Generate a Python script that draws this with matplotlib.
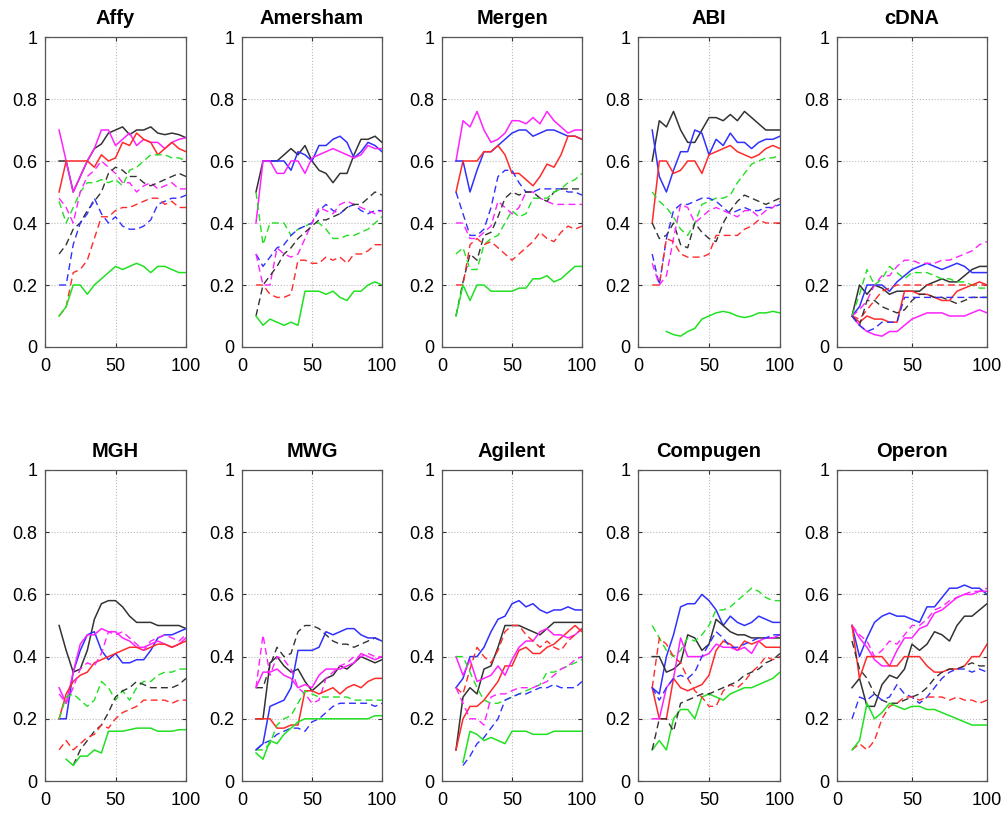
import numpy as np
import matplotlib
matplotlib.use("Agg")
import matplotlib.pyplot as plt

plt.rcParams['font.family'] = ['Liberation Sans', 'DejaVu Sans']

X = [10, 15, 20, 25, 30, 35, 40, 45, 50, 55, 60, 65, 70, 75, 80, 85, 90, 95, 100]
N = None

TITLES = ['Affy', 'Amersham', 'Mergen', 'ABI', 'cDNA',
          'MGH', 'MWG', 'Agilent', 'Compugen', 'Operon']

# keys: colour letter + '-' (solid) or '--' (dashed)
affy = {
    'k-':  [0.60, 0.60, 0.50, 0.55, 0.60, 0.64, 0.655, 0.69, 0.70, 0.71, 0.685, 0.70, 0.70, 0.71, 0.69, 0.685, 0.69, 0.685, 0.675],
    'm-':  [0.70, 0.60, 0.50, 0.55, 0.60, 0.64, 0.70, 0.70, 0.65, 0.67, 0.69, 0.65, 0.67, 0.66, 0.66, 0.64, 0.66, 0.67, 0.675],
    'r-':  [0.50, 0.60, 0.60, 0.60, 0.60, 0.58, 0.62, 0.60, 0.61, 0.66, 0.65, 0.69, 0.67, 0.66, 0.62, 0.64, 0.66, 0.64, 0.63],
    'g--': [0.47, 0.40, 0.45, 0.50, 0.53, 0.53, 0.54, 0.53, 0.54, 0.52, 0.57, 0.58, 0.60, 0.62, 0.62, 0.62, 0.61, 0.61, 0.60],
    'm--': [0.48, 0.45, 0.40, 0.50, 0.55, 0.57, 0.60, 0.58, 0.56, 0.53, 0.53, 0.50, 0.52, 0.53, 0.51, 0.52, 0.53, 0.51, 0.51],
    'k--': [0.30, 0.33, 0.38, 0.40, 0.44, 0.47, 0.50, 0.56, 0.58, 0.57, 0.55, 0.55, 0.53, 0.52, 0.53, 0.54, 0.55, 0.56, 0.55],
    'b--': [0.20, 0.20, 0.33, 0.40, 0.43, 0.48, 0.43, 0.40, 0.42, 0.39, 0.38, 0.38, 0.39, 0.41, 0.46, 0.47, 0.48, 0.48, 0.49],
    'r--': [0.10, 0.13, 0.24, 0.25, 0.28, 0.35, 0.42, 0.42, 0.44, 0.45, 0.45, 0.46, 0.47, 0.48, 0.48, 0.46, 0.47, 0.45, 0.45],
    'g-':  [0.10, 0.13, 0.20, 0.20, 0.17, 0.20, 0.22, 0.24, 0.26, 0.25, 0.26, 0.27, 0.26, 0.24, 0.26, 0.26, 0.25, 0.24, 0.24],
}
amersham = {
    'k-':  [0.50, 0.60, 0.60, 0.60, 0.62, 0.64, 0.62, 0.65, 0.60, 0.57, 0.56, 0.53, 0.56, 0.56, 0.62, 0.67, 0.67, 0.68, 0.66],
    'b-':  [N, 0.60, 0.60, 0.60, 0.60, 0.57, 0.63, 0.62, 0.60, 0.65, 0.65, 0.67, 0.68, 0.66, 0.61, 0.63, 0.66, 0.65, 0.63],
    'm-':  [0.40, 0.60, 0.60, 0.56, 0.56, 0.60, 0.60, 0.56, 0.61, 0.62, 0.63, 0.64, 0.63, 0.62, 0.61, 0.62, 0.65, 0.64, 0.64],
    'g--': [0.50, 0.33, 0.40, 0.40, 0.40, 0.36, 0.38, 0.39, 0.40, 0.40, 0.38, 0.35, 0.35, 0.36, 0.36, 0.37, 0.38, 0.40, 0.42],
    'b--': [0.30, 0.26, 0.29, 0.32, 0.33, 0.36, 0.38, 0.39, 0.40, 0.44, 0.46, 0.44, 0.43, 0.45, 0.46, 0.44, 0.43, 0.44, 0.44],
    'm--': [0.30, 0.20, 0.20, 0.32, 0.30, 0.29, 0.30, 0.35, 0.40, 0.45, 0.44, 0.43, 0.46, 0.47, 0.46, 0.45, 0.44, 0.43, 0.44],
    'k--': [0.10, 0.20, 0.23, 0.26, 0.30, 0.32, 0.35, 0.37, 0.39, 0.41, 0.41, 0.42, 0.43, 0.45, 0.46, 0.46, 0.48, 0.50, 0.49],
    'r--': [0.20, 0.20, 0.17, 0.16, 0.16, 0.17, 0.28, 0.28, 0.27, 0.27, 0.29, 0.28, 0.29, 0.27, 0.30, 0.30, 0.31, 0.33, 0.33],
    'g-':  [0.10, 0.07, 0.09, 0.08, 0.07, 0.08, 0.07, 0.18, 0.18, 0.18, 0.17, 0.18, 0.16, 0.15, 0.18, 0.18, 0.20, 0.21, 0.20],
}
mergen = {
    'm-':  [0.60, 0.73, 0.71, 0.76, 0.70, 0.66, 0.67, 0.69, 0.73, 0.73, 0.72, 0.74, 0.72, 0.76, 0.73, 0.71, 0.69, 0.70, 0.70],
    'b-':  [0.60, 0.60, 0.50, 0.57, 0.63, 0.63, 0.65, 0.67, 0.69, 0.70, 0.70, 0.68, 0.69, 0.70, 0.70, 0.69, 0.68, 0.68, 0.67],
    'r-':  [0.50, 0.60, 0.60, 0.60, 0.63, 0.63, 0.65, 0.62, 0.56, 0.56, 0.54, 0.52, 0.55, 0.59, 0.58, 0.62, 0.68, 0.68, 0.67],
    'b--': [0.50, 0.43, 0.36, 0.36, 0.38, 0.45, 0.55, 0.57, 0.57, 0.53, 0.50, 0.50, 0.51, 0.51, 0.51, 0.51, 0.50, 0.50, 0.49],
    'm--': [0.40, 0.40, 0.35, 0.35, 0.37, 0.39, 0.47, 0.45, 0.43, 0.45, 0.50, 0.50, 0.48, 0.47, 0.46, 0.46, 0.46, 0.46, 0.46],
    'k--': [0.10, 0.21, 0.30, 0.28, 0.36, 0.37, 0.42, 0.48, 0.50, 0.49, 0.50, 0.50, 0.48, 0.47, 0.50, 0.51, 0.51, 0.51, 0.51],
    'g--': [0.30, 0.32, 0.25, 0.25, 0.33, 0.35, 0.36, 0.40, 0.44, 0.42, 0.43, 0.48, 0.48, 0.48, 0.50, 0.51, 0.53, 0.54, 0.56],
    'r--': [0.20, 0.20, 0.33, 0.35, 0.33, 0.34, 0.32, 0.30, 0.28, 0.30, 0.32, 0.34, 0.37, 0.35, 0.34, 0.37, 0.39, 0.38, 0.39],
    'g-':  [0.10, 0.20, 0.15, 0.20, 0.20, 0.18, 0.18, 0.18, 0.18, 0.19, 0.19, 0.22, 0.22, 0.23, 0.21, 0.22, 0.24, 0.26, 0.26],
}
abi = {
    'k-':  [0.60, 0.73, 0.71, 0.76, 0.70, 0.66, 0.66, 0.70, 0.74, 0.74, 0.73, 0.75, 0.73, 0.76, 0.74, 0.72, 0.70, 0.70, 0.70],
    'b-':  [0.70, 0.55, 0.50, 0.57, 0.63, 0.63, 0.70, 0.69, 0.62, 0.67, 0.65, 0.69, 0.66, 0.66, 0.64, 0.66, 0.67, 0.67, 0.68],
    'r-':  [0.40, 0.60, 0.60, 0.56, 0.57, 0.60, 0.60, 0.56, 0.62, 0.63, 0.64, 0.65, 0.63, 0.62, 0.61, 0.62, 0.64, 0.65, 0.64],
    'g--': [0.50, 0.47, 0.45, 0.42, 0.38, 0.36, 0.40, 0.46, 0.47, 0.48, 0.48, 0.49, 0.53, 0.56, 0.59, 0.60, 0.61, 0.61, 0.62],
    'k--': [0.40, 0.35, 0.36, 0.40, 0.33, 0.32, 0.40, 0.37, 0.35, 0.34, 0.40, 0.44, 0.47, 0.49, 0.48, 0.47, 0.46, 0.47, 0.48],
    'b--': [0.30, 0.20, 0.35, 0.44, 0.46, 0.46, 0.47, 0.48, 0.48, 0.47, 0.45, 0.43, 0.44, 0.45, 0.44, 0.44, 0.45, 0.45, 0.46],
    'm--': [0.27, 0.20, 0.23, 0.35, 0.46, 0.45, 0.40, 0.42, 0.44, 0.45, 0.44, 0.43, 0.42, 0.44, 0.44, 0.42, 0.44, 0.45, 0.47],
    'r--': [0.20, 0.20, 0.35, 0.34, 0.30, 0.29, 0.29, 0.29, 0.30, 0.36, 0.36, 0.36, 0.36, 0.38, 0.39, 0.41, 0.40, 0.40, 0.40],
    'g-':  [N, N, 0.05, 0.04, 0.035, 0.05, 0.06, 0.09, 0.10, 0.11, 0.115, 0.11, 0.10, 0.095, 0.10, 0.11, 0.11, 0.115, 0.11],
}
cdna = {
    'k-':  [0.10, 0.20, 0.17, 0.20, 0.19, 0.17, 0.18, 0.18, 0.18, 0.18, 0.20, 0.21, 0.22, 0.21, 0.21, 0.23, 0.25, 0.26, 0.26],
    'b-':  [0.10, 0.13, 0.20, 0.20, 0.20, 0.18, 0.21, 0.23, 0.25, 0.26, 0.27, 0.26, 0.25, 0.26, 0.27, 0.26, 0.24, 0.24, 0.24],
    'r-':  [0.10, 0.08, 0.10, 0.09, 0.09, 0.08, 0.08, 0.18, 0.18, 0.17, 0.17, 0.16, 0.15, 0.15, 0.18, 0.19, 0.20, 0.21, 0.20],
    'm-':  [0.10, 0.07, 0.05, 0.04, 0.035, 0.05, 0.05, 0.07, 0.09, 0.10, 0.11, 0.11, 0.11, 0.10, 0.10, 0.10, 0.11, 0.12, 0.11],
    'm--': [0.10, 0.12, 0.15, 0.20, 0.23, 0.23, 0.26, 0.28, 0.28, 0.27, 0.27, 0.27, 0.28, 0.28, 0.29, 0.30, 0.31, 0.33, 0.34],
    'g--': [0.10, 0.17, 0.25, 0.20, 0.22, 0.26, 0.24, 0.22, 0.24, 0.24, 0.24, 0.23, 0.22, 0.22, 0.21, 0.21, 0.20, 0.19, 0.19],
    'r--': [0.10, 0.09, 0.12, 0.15, 0.18, 0.19, 0.20, 0.20, 0.20, 0.20, 0.20, 0.20, 0.20, 0.20, 0.20, 0.20, 0.20, 0.20, 0.20],
    'k--': [0.10, 0.07, 0.15, 0.15, 0.13, 0.12, 0.11, 0.12, 0.15, 0.17, 0.17, 0.16, 0.16, 0.15, 0.14, 0.15, 0.16, 0.16, 0.16],
    'b--': [0.10, 0.07, 0.05, 0.06, 0.08, 0.08, 0.08, 0.16, 0.16, 0.16, 0.16, 0.16, 0.16, 0.16, 0.16, 0.16, 0.16, 0.16, 0.16],
}
mgh = {
    'k-':  [0.50, 0.42, 0.35, 0.36, 0.42, 0.52, 0.57, 0.58, 0.58, 0.56, 0.53, 0.51, 0.51, 0.51, 0.50, 0.50, 0.50, 0.50, 0.49],
    'b-':  [0.20, 0.20, 0.35, 0.42, 0.47, 0.48, 0.42, 0.39, 0.41, 0.38, 0.38, 0.39, 0.39, 0.42, 0.46, 0.47, 0.47, 0.48, 0.49],
    'm-':  [0.30, 0.25, 0.35, 0.44, 0.47, 0.47, 0.49, 0.48, 0.48, 0.46, 0.45, 0.43, 0.43, 0.44, 0.45, 0.44, 0.43, 0.44, 0.46],
    'r-':  [0.20, 0.28, 0.32, 0.34, 0.35, 0.38, 0.39, 0.40, 0.41, 0.42, 0.43, 0.43, 0.42, 0.43, 0.44, 0.44, 0.43, 0.44, 0.45],
    'm--': [0.28, 0.25, 0.30, 0.36, 0.38, 0.37, 0.41, 0.48, 0.47, 0.48, 0.46, 0.44, 0.42, 0.45, 0.46, 0.47, 0.46, 0.45, 0.47],
    'g--': [0.20, 0.27, 0.28, 0.26, 0.24, 0.26, 0.32, 0.30, 0.26, 0.29, 0.26, 0.30, 0.32, 0.32, 0.34, 0.35, 0.35, 0.36, 0.36],
    'k--': [N, N, 0.05, 0.10, 0.13, 0.16, 0.18, 0.22, 0.27, 0.29, 0.30, 0.32, 0.31, 0.30, 0.30, 0.30, 0.30, 0.31, 0.33],
    'r--': [0.10, 0.13, 0.10, 0.12, 0.14, 0.15, 0.18, 0.17, 0.20, 0.22, 0.23, 0.24, 0.26, 0.26, 0.26, 0.26, 0.25, 0.26, 0.26],
    'g-':  [N, 0.07, 0.05, 0.08, 0.08, 0.10, 0.09, 0.16, 0.16, 0.16, 0.165, 0.17, 0.17, 0.17, 0.16, 0.16, 0.16, 0.165, 0.165],
}
mwg = {
    'k-':  [0.20, 0.20, 0.38, 0.40, 0.37, 0.35, 0.36, 0.32, 0.29, 0.31, 0.33, 0.34, 0.37, 0.36, 0.38, 0.40, 0.39, 0.38, 0.39],
    'k--': [0.30, 0.30, 0.37, 0.43, 0.40, 0.41, 0.48, 0.50, 0.50, 0.49, 0.47, 0.45, 0.44, 0.44, 0.43, 0.44, 0.45, 0.46, 0.45],
    'b-':  [0.10, 0.12, 0.24, 0.25, 0.26, 0.30, 0.42, 0.42, 0.42, 0.43, 0.48, 0.47, 0.48, 0.49, 0.49, 0.47, 0.46, 0.46, 0.45],
    'm-':  [0.30, 0.35, 0.35, 0.36, 0.34, 0.33, 0.30, 0.31, 0.30, 0.34, 0.36, 0.36, 0.36, 0.37, 0.38, 0.41, 0.40, 0.39, 0.40],
    'm--': [0.30, 0.47, 0.34, 0.40, 0.39, 0.36, 0.30, 0.28, 0.25, 0.26, 0.33, 0.35, 0.37, 0.38, 0.40, 0.40, 0.41, 0.40, 0.40],
    'r-':  [0.20, 0.20, 0.20, 0.17, 0.17, 0.18, 0.18, 0.29, 0.29, 0.28, 0.29, 0.30, 0.28, 0.30, 0.31, 0.30, 0.32, 0.33, 0.33],
    'g--': [0.10, 0.10, 0.12, 0.18, 0.20, 0.21, 0.25, 0.29, 0.28, 0.27, 0.27, 0.27, 0.27, 0.27, 0.26, 0.26, 0.26, 0.26, 0.26],
    'b--': [0.10, 0.12, 0.13, 0.15, 0.16, 0.17, 0.17, 0.16, 0.19, 0.20, 0.22, 0.24, 0.25, 0.25, 0.25, 0.25, 0.25, 0.24, 0.25],
    'g-':  [0.09, 0.07, 0.13, 0.12, 0.15, 0.17, 0.19, 0.20, 0.20, 0.20, 0.20, 0.20, 0.20, 0.20, 0.20, 0.20, 0.20, 0.21, 0.21],
}
agilent = {
    'b-':  [0.30, 0.33, 0.40, 0.40, 0.43, 0.48, 0.52, 0.53, 0.57, 0.58, 0.56, 0.57, 0.55, 0.54, 0.55, 0.55, 0.56, 0.55, 0.55],
    'k-':  [0.10, 0.27, 0.30, 0.28, 0.36, 0.37, 0.43, 0.50, 0.50, 0.50, 0.49, 0.48, 0.47, 0.49, 0.51, 0.51, 0.51, 0.51, 0.51],
    'r-':  [0.10, 0.20, 0.24, 0.24, 0.26, 0.29, 0.32, 0.37, 0.37, 0.42, 0.43, 0.41, 0.41, 0.43, 0.44, 0.46, 0.48, 0.50, 0.48],
    'm-':  [0.40, 0.34, 0.39, 0.32, 0.33, 0.34, 0.37, 0.34, 0.39, 0.43, 0.45, 0.45, 0.48, 0.49, 0.47, 0.47, 0.46, 0.47, 0.49],
    'r--': [0.30, 0.28, 0.36, 0.43, 0.40, 0.38, 0.42, 0.48, 0.50, 0.50, 0.47, 0.45, 0.43, 0.45, 0.43, 0.42, 0.45, 0.47, 0.49],
    'g--': [0.40, 0.40, 0.35, 0.30, 0.26, 0.25, 0.25, 0.26, 0.27, 0.28, 0.29, 0.30, 0.31, 0.35, 0.35, 0.36, 0.37, 0.38, 0.39],
    'm--': [0.30, 0.25, 0.20, 0.20, 0.18, 0.27, 0.28, 0.28, 0.29, 0.30, 0.30, 0.30, 0.31, 0.32, 0.34, 0.36, 0.37, 0.39, 0.40],
    'b--': [N, 0.05, 0.08, 0.12, 0.14, 0.17, 0.20, 0.26, 0.27, 0.28, 0.28, 0.29, 0.30, 0.30, 0.31, 0.30, 0.30, 0.30, 0.32],
    'g-':  [N, 0.06, 0.16, 0.15, 0.13, 0.14, 0.13, 0.12, 0.16, 0.16, 0.16, 0.15, 0.15, 0.15, 0.16, 0.16, 0.16, 0.16, 0.16],
}
compugen = {
    'b-':  [0.30, 0.28, 0.40, 0.47, 0.56, 0.57, 0.57, 0.60, 0.58, 0.55, 0.50, 0.53, 0.51, 0.50, 0.51, 0.53, 0.52, 0.51, 0.51],
    'k-':  [0.40, 0.40, 0.35, 0.36, 0.38, 0.47, 0.46, 0.42, 0.44, 0.52, 0.50, 0.48, 0.47, 0.47, 0.46, 0.46, 0.46, 0.46, 0.46],
    'g--': [0.50, 0.46, 0.42, 0.40, 0.42, 0.46, 0.45, 0.47, 0.50, 0.55, 0.55, 0.56, 0.58, 0.60, 0.62, 0.61, 0.59, 0.58, 0.58],
    'g-':  [0.10, 0.13, 0.10, 0.20, 0.23, 0.23, 0.20, 0.27, 0.28, 0.27, 0.26, 0.28, 0.29, 0.30, 0.30, 0.31, 0.32, 0.33, 0.35],
    'r-':  [0.30, 0.20, 0.20, 0.33, 0.30, 0.29, 0.30, 0.31, 0.34, 0.42, 0.45, 0.44, 0.42, 0.45, 0.44, 0.45, 0.43, 0.43, 0.43],
    'm-':  [0.20, 0.20, 0.30, 0.33, 0.46, 0.40, 0.40, 0.40, 0.41, 0.44, 0.43, 0.43, 0.42, 0.43, 0.41, 0.45, 0.46, 0.46, 0.47],
    'r--': [0.30, 0.46, 0.44, 0.40, 0.38, 0.33, 0.29, 0.27, 0.24, 0.24, 0.29, 0.31, 0.30, 0.32, 0.35, 0.37, 0.40, 0.39, 0.40],
    'b--': [0.30, 0.26, 0.30, 0.33, 0.34, 0.33, 0.35, 0.40, 0.44, 0.48, 0.46, 0.43, 0.43, 0.44, 0.45, 0.46, 0.46, 0.47, 0.47],
    'k--': [0.10, 0.20, 0.20, 0.16, 0.25, 0.26, 0.27, 0.28, 0.28, 0.29, 0.30, 0.31, 0.32, 0.34, 0.35, 0.36, 0.38, 0.39, 0.41],
}
operon = {
    'b-':  [0.50, 0.40, 0.46, 0.51, 0.53, 0.54, 0.53, 0.53, 0.52, 0.51, 0.56, 0.56, 0.59, 0.62, 0.62, 0.63, 0.62, 0.62, 0.60],
    'm-':  [0.50, 0.46, 0.43, 0.39, 0.37, 0.37, 0.42, 0.46, 0.46, 0.49, 0.50, 0.54, 0.55, 0.57, 0.59, 0.60, 0.60, 0.61, 0.61],
    'm--': [0.50, 0.47, 0.45, 0.40, 0.42, 0.45, 0.44, 0.47, 0.50, 0.50, 0.52, 0.55, 0.56, 0.58, 0.59, 0.60, 0.61, 0.61, 0.62],
    'k-':  [0.30, 0.33, 0.24, 0.24, 0.31, 0.34, 0.33, 0.36, 0.44, 0.42, 0.44, 0.48, 0.47, 0.45, 0.50, 0.53, 0.53, 0.55, 0.57],
    'r-':  [0.50, 0.33, 0.40, 0.40, 0.40, 0.37, 0.37, 0.40, 0.40, 0.40, 0.37, 0.35, 0.35, 0.36, 0.36, 0.37, 0.40, 0.40, 0.44],
    'k--': [0.45, 0.36, 0.33, 0.28, 0.26, 0.25, 0.25, 0.26, 0.27, 0.28, 0.30, 0.33, 0.35, 0.36, 0.36, 0.37, 0.38, 0.37, 0.37],
    'b--': [0.20, 0.27, 0.26, 0.28, 0.26, 0.27, 0.31, 0.28, 0.27, 0.25, 0.27, 0.30, 0.33, 0.35, 0.36, 0.36, 0.35, 0.36, 0.35],
    'r--': [0.10, 0.12, 0.10, 0.13, 0.20, 0.24, 0.25, 0.27, 0.27, 0.26, 0.27, 0.27, 0.27, 0.26, 0.27, 0.26, 0.26, 0.25, 0.26],
    'g-':  [0.10, 0.13, 0.25, 0.20, 0.22, 0.25, 0.24, 0.23, 0.24, 0.24, 0.23, 0.23, 0.22, 0.21, 0.20, 0.19, 0.18, 0.18, 0.18],
}

PANELS = [affy, amersham, mergen, abi, cdna, mgh, mwg, agilent, compugen, operon]

COLORS = {'b': '#3030ff', 'r': '#ff2a2a', 'g': '#22e022', 'm': '#ff22ff', 'k': '#333333'}

LEFTS = [45, 242, 442, 638, 837]
WIDTHS = [141, 140, 140, 142, 150]
ROW_BOTTOM = [347, 781]
ROW_TOP = [37, 470]

W, H = 1008, 814
fig = plt.figure(figsize=(W / 100, H / 100), dpi=100)

for i, (title, data) in enumerate(zip(TITLES, PANELS)):
    r, c = divmod(i, 5)
    ax = fig.add_axes([LEFTS[c] / W, 1 - ROW_BOTTOM[r] / H,
                       WIDTHS[c] / W, (ROW_BOTTOM[r] - ROW_TOP[r]) / H])
    for key, vals in data.items():
        col = COLORS[key[0]]
        ls = key[1:]
        y = np.array(vals, dtype=float)
        if ls == '--':
            ax.plot(X, y, color=col, lw=1.0, linestyle=(0, (5, 3)))
        else:
            ax.plot(X, y, color=col, lw=1.1)
    ax.set_xlim(0, 100)
    ax.set_ylim(0, 1)
    ax.set_xticks([0, 50, 100])
    ax.set_yticks([0, 0.2, 0.4, 0.6, 0.8, 1])
    ax.set_yticklabels(['0', '0.2', '0.4', '0.6', '0.8', '1'])
    ax.grid(True, color='#bbbbbb', linestyle=':', linewidth=0.8)
    ax.tick_params(direction='in', top=True, right=True, labelsize=13,
                   length=3, width=0.8, color='#333333')
    ax.tick_params(axis='y', pad=5.5)
    ax.tick_params(axis='x', pad=8)
    for s in ax.spines.values():
        s.set_color('#555555')
        s.set_linewidth(0.9)
    ax.set_title(title, fontsize=14.5, fontweight='bold', pad=9)

fig.savefig('out.png', dpi=100)
